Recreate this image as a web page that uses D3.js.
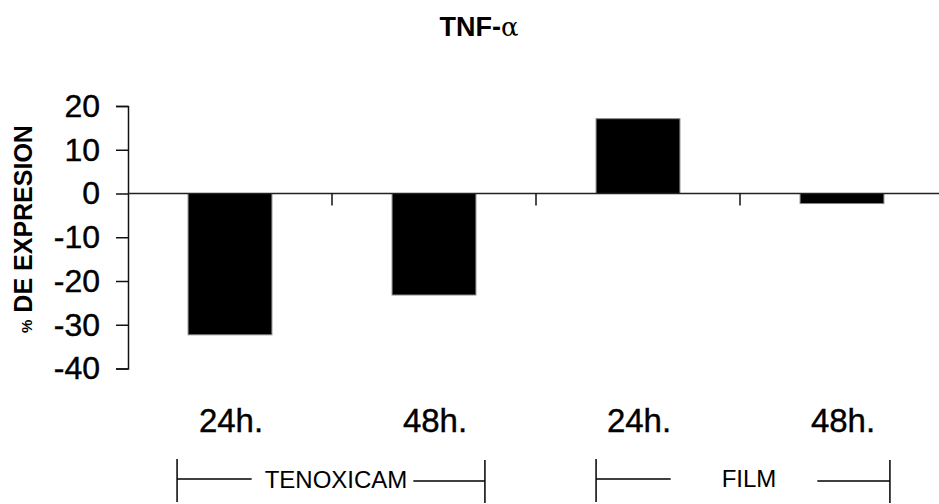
<!DOCTYPE html>
<html>
<head>
<meta charset="utf-8">
<script src="https://cdn.jsdelivr.net/npm/d3@7"></script>
<style>
  html, body { margin: 0; padding: 0; background: #fff; }
  svg { display: block; font-family: Arial, "Liberation Sans", sans-serif; }
</style>
</head>
<body>
<svg id="chart" width="939" height="504"></svg>
<script>
// ---- data ----
const categories = ["T24", "T48", "F24", "F48"];
const categoryLabels = ["24h.", "48h.", "24h.", "48h."];
const values = [-32.3, -23.2, 17.1, -2.3];
const yTicks = [-40, -30, -20, -10, 0, 10, 20];
const groupNames = ["TENOXICAM", "FILM"];
const groupStart = [0, 2];
const groupEnd = [1, 3];
const titleMain = "TNF-";
const titleGreek = "α";
const yLabelPct = "%";
const yLabelText = " DE EXPRESION";

// ---- layout ----
const W = 939, H = 504;
const x0 = 128, x1 = 944;
const svg = d3.select("#chart");

const x = d3.scaleBand().domain(categories).range([x0, x1])
  .paddingInner(0.589).paddingOuter(0.2945);
const y = d3.scaleLinear().domain([-40, 20]).range([368.5, 106]);
const step = x.step(), bw = x.bandwidth();
const gapHalf = (step - bw) / 2;

// title
const title = svg.append("text").attr("x", 479).attr("y", 36)
  .attr("text-anchor", "middle").attr("font-size", 27).attr("font-weight", "bold");
title.append("tspan").text(titleMain);
title.append("tspan").attr("font-family", "'DejaVu Serif', 'Liberation Serif', serif")
  .attr("font-weight", "normal").attr("font-size", 26).text(titleGreek);

// y axis label
const yl = svg.append("text")
  .attr("transform", "translate(32,229) rotate(-90)")
  .attr("text-anchor", "middle").attr("font-weight", "bold").attr("font-size", 25);
yl.append("tspan").attr("font-size", 15).text(yLabelPct);
yl.append("tspan").text(yLabelText);

// bars
svg.append("g").selectAll("rect").data(values).join("rect")
  .attr("x", (d, i) => x(categories[i]))
  .attr("width", bw)
  .attr("y", d => y(Math.max(0, d)))
  .attr("height", d => Math.abs(y(d) - y(0)))
  .attr("fill", "#000")
  .attr("stroke", "#888").attr("stroke-width", 1);

// y axis
const yAxis = svg.append("g").attr("transform", `translate(${x0},0)`)
  .call(d3.axisLeft(y).tickValues(yTicks).tickSize(12).tickPadding(16).tickFormat(d => String(d)));
yAxis.select(".domain").attr("stroke", "#111").attr("stroke-width", 1.5);
yAxis.selectAll(".tick line").attr("stroke", "#111").attr("stroke-width", 1.5);
yAxis.selectAll(".tick text").attr("font-size", 32).attr("fill", "#000")
  .attr("stroke", "#000").attr("stroke-width", 0.4)
  .attr("font-family", "Arial, 'Liberation Sans', sans-serif");

// zero line + boundary ticks
svg.append("line").attr("x1", x0).attr("x2", W).attr("y1", y(0)).attr("y2", y(0))
  .attr("stroke", "#222").attr("stroke-width", 1.5);
svg.append("g").selectAll("line").data(categories.slice(1)).join("line")
  .attr("x1", d => x(d) - gapHalf).attr("x2", d => x(d) - gapHalf)
  .attr("y1", y(0)).attr("y2", y(0) + 12)
  .attr("stroke", "#111").attr("stroke-width", 1.5);

// category labels
svg.append("g").selectAll("text").data(categories).join("text")
  .attr("x", d => x(d) + bw / 2 + 1).attr("y", 432)
  .attr("text-anchor", "middle").attr("font-size", 33)
  .attr("stroke", "#000").attr("stroke-width", 0.4)
  .text((d, i) => categoryLabels[i]);

// group brackets
const groupLayout = [
  { left: -11, right: 9, textY: 488, gapL: 13, gapR: 6 },
  { left: 0, right: 6, textY: 487, gapL: 51, gapR: 41 }
];
groupNames.forEach((g, i) => {
  const L = x(categories[groupStart[i]]) + groupLayout[i].left;
  const R = x(categories[groupEnd[i]]) + bw + groupLayout[i].right;
  const cx = i === 0 ? 336 : 749;
  const gg = svg.append("g").attr("stroke", "#000").attr("stroke-width", 1.5);
  const t = svg.append("text").attr("x", cx).attr("y", groupLayout[i].textY)
    .attr("text-anchor", "middle").attr("font-size", 24).text(g);
  const tw = t.node().getComputedTextLength();
  gg.append("line").attr("x1", L).attr("x2", L).attr("y1", 459).attr("y2", 502);
  gg.append("line").attr("x1", R).attr("x2", R).attr("y1", 460).attr("y2", 503);
  gg.append("line").attr("x1", L).attr("x2", cx - tw / 2 - groupLayout[i].gapL).attr("y1", 479).attr("y2", 479);
  gg.append("line").attr("x1", cx + tw / 2 + groupLayout[i].gapR).attr("x2", R).attr("y1", 481).attr("y2", 481);
});
</script>
</body>
</html>
